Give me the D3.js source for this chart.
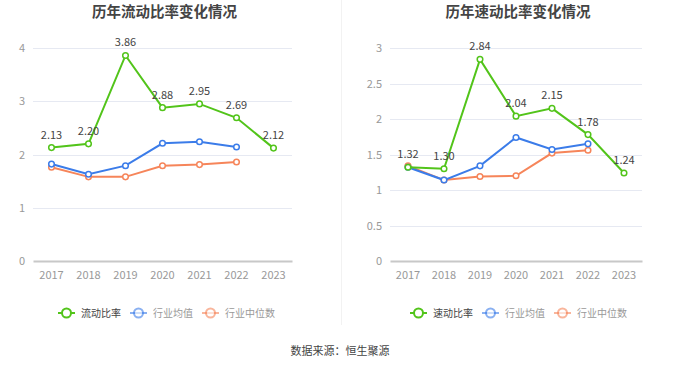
<!DOCTYPE html>
<html>
<head>
<meta charset="utf-8">
<script src="https://cdn.jsdelivr.net/npm/d3@7"></script>
<style>
  body { margin: 0; background: #fff; }
  svg { display: block; font-family: "Noto Sans CJK SC", "Noto Sans", sans-serif; }
</style>
</head>
<body>
<svg id="chart" width="680" height="367"></svg>
<script>
const years = ['2017', '2018', '2019', '2020', '2021', '2022', '2023'];

// left: current ratio
const currentRatio = [2.13, 2.20, 3.86, 2.88, 2.95, 2.69, 2.12];
const currentAvg = [1.82, 1.63, 1.79, 2.21, 2.24, 2.14];
const currentMedian = [1.76, 1.58, 1.58, 1.79, 1.81, 1.86];
const currentTicks = [0, 1, 2, 3, 4];

// right: quick ratio
const quickRatio = [1.32, 1.30, 2.84, 2.04, 2.15, 1.78, 1.24];
const quickAvg = [1.32, 1.14, 1.34, 1.74, 1.57, 1.65];
const quickMedian = [1.34, 1.14, 1.19, 1.20, 1.52, 1.56];
const quickTicks = [0, 0.5, 1, 1.5, 2, 2.5, 3];

const GREEN = '#52c41a', BLUE = '#3b7ce9', ORANGE = '#f6855a';

const svg = d3.select('#chart');

// divider between the two panels
svg.append('line')
    .attr('x1', 341.5).attr('x2', 341.5)
    .attr('y1', 0).attr('y2', 325)
    .attr('stroke', '#f2f2f2').attr('stroke-width', 1);

function drawPanel(opt) {
    const g = svg.append('g');
    const x = d3.scaleBand().domain(years).range([opt.left, opt.right]);
    const y = d3.scaleLinear().domain([0, opt.max]).range([261, 48]);
    const cx = d => x(d) + x.bandwidth() / 2;

    // title
    g.append('text')
        .attr('x', (opt.left + opt.right) / 2 + 2).attr('y', 17)
        .attr('text-anchor', 'middle')
        .attr('font-size', 14.5).attr('font-weight', 'bold').attr('fill', '#444')
        .text(opt.title);

    // gridlines
    g.append('g').selectAll('line')
        .data(opt.ticks.filter(t => t > 0))
        .join('line')
        .attr('x1', opt.left).attr('x2', opt.right)
        .attr('y1', d => Math.round(y(d)) + 0.5).attr('y2', d => Math.round(y(d)) + 0.5)
        .attr('stroke', '#e6e9f2');

    // y labels
    g.append('g').selectAll('text')
        .data(opt.ticks)
        .join('text')
        .attr('x', opt.left - 8).attr('y', d => y(d) + 4)
        .attr('text-anchor', 'end')
        .attr('font-size', 11).attr('fill', '#999')
        .text(d => d);

    // x axis
    const xAxis = g.append('g')
        .attr('transform', 'translate(0,261)')
        .call(d3.axisBottom(x).tickSize(0).tickPadding(10));
    xAxis.select('.domain').attr('stroke', '#c8c8c8').attr('stroke-width', 2);
    xAxis.selectAll('text').attr('font-size', 11).attr('fill', '#999')
        .attr('font-family', '"Noto Sans CJK SC", "Noto Sans", sans-serif');

    const line = d3.line().x((d, i) => cx(years[i])).y(d => y(d));

    const series = [
        { data: opt.median, color: ORANGE },
        { data: opt.avg, color: BLUE },
        { data: opt.main, color: GREEN }
    ];
    series.forEach(s => {
        g.append('path')
            .datum(s.data)
            .attr('d', line)
            .attr('fill', 'none')
            .attr('stroke', s.color)
            .attr('stroke-width', 2);
        g.append('g').selectAll('circle')
            .data(s.data)
            .join('circle')
            .attr('cx', (d, i) => cx(years[i]))
            .attr('cy', d => y(d))
            .attr('r', 2.8)
            .attr('fill', '#fff')
            .attr('stroke', s.color)
            .attr('stroke-width', 1.5);
    });

    // value labels
    g.append('g').selectAll('text')
        .data(opt.main)
        .join('text')
        .attr('x', (d, i) => cx(years[i]))
        .attr('y', d => y(d) - 9)
        .attr('text-anchor', 'middle')
        .attr('font-size', 11).attr('fill', '#444')
        .text(d => d.toFixed(2));

    // legend
    const legend = [
        { name: opt.name, color: GREEN, text: '#444', op: 1 },
        { name: '行业均值', color: BLUE, text: '#999', op: 0.6 },
        { name: '行业中位数', color: ORANGE, text: '#999', op: 0.6 }
    ];
    let lx = opt.legendX;
    legend.forEach(l => {
        const item = g.append('g').attr('transform', `translate(${lx},313)`);
        item.append('line')
            .attr('x1', 0).attr('x2', 17)
            .attr('stroke', l.color).attr('stroke-width', 2).attr('opacity', l.op);
        item.append('circle')
            .attr('cx', 8.5).attr('r', 4.5)
            .attr('fill', '#fff').attr('stroke', l.color).attr('stroke-width', 2)
            .attr('opacity', l.op);
        const t = item.append('text')
            .attr('x', 23).attr('y', 4)
            .attr('font-size', 10).attr('fill', l.text)
            .text(l.name);
        lx += 23 + t.node().getComputedTextLength() + 9;
    });
}

drawPanel({
    title: '历年流动比率变化情况', name: '流动比率',
    left: 33, right: 292, max: 4, ticks: currentTicks,
    main: currentRatio, avg: currentAvg, median: currentMedian, legendX: 58
});
drawPanel({
    title: '历年速动比率变化情况', name: '速动比率',
    left: 390, right: 642, max: 3, ticks: quickTicks,
    main: quickRatio, avg: quickAvg, median: quickMedian, legendX: 410
});

svg.append('text')
    .attr('x', 340).attr('y', 355)
    .attr('text-anchor', 'middle')
    .attr('font-size', 11).attr('fill', '#444')
    .text('数据来源：恒生聚源');
</script>
</body>
</html>
